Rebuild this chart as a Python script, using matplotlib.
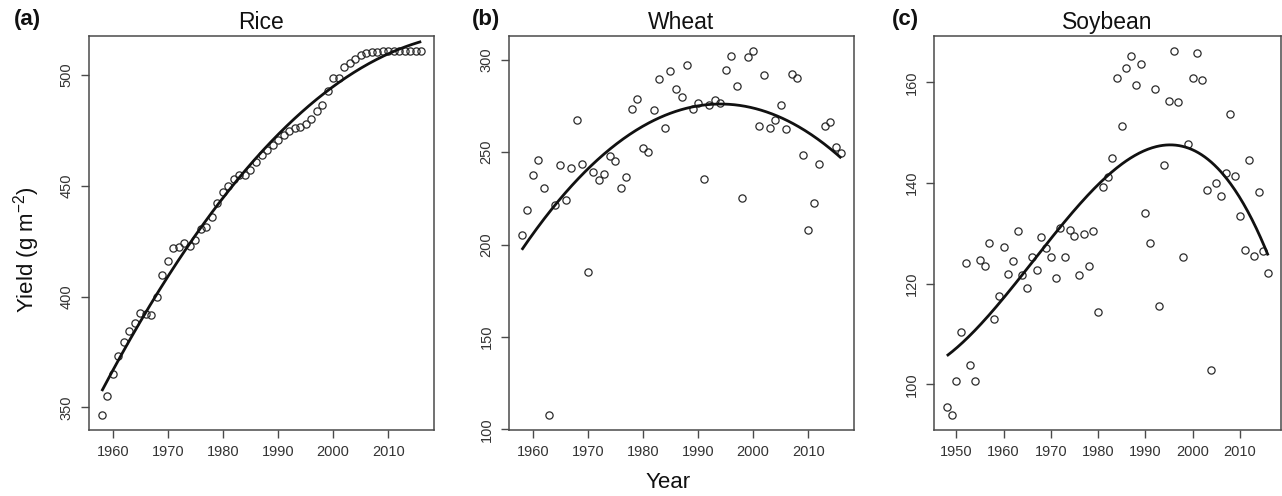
import numpy as np
import matplotlib
matplotlib.use("Agg")
import matplotlib.pyplot as plt

plt.rcParams['font.family'] = ['Liberation Sans', 'DejaVu Sans']
plt.rcParams['mathtext.fontset'] = 'custom'
plt.rcParams['mathtext.rm'] = 'Liberation Sans'
plt.rcParams['mathtext.it'] = 'Liberation Sans:italic'

# ---------------- data ----------------
rice_years = list(range(1958, 2017))
rice_yield = [346.4, 355.0, 365.3, 373.1, 379.3, 384.6, 387.9, 392.6, 392.0, 391.7,
              399.6, 409.7, 415.9, 421.8, 422.5, 424.3, 422.7, 425.7, 430.6, 431.6,
              436.0, 442.3, 447.0, 450.0, 453.2, 454.7, 455.0, 457.3, 460.6, 463.8,
              466.1, 468.3, 470.6, 473.1, 474.9, 476.1, 476.7, 478.1, 480.0, 483.7,
              486.4, 492.7, 498.8, 498.8, 503.8, 505.6, 507.3, 508.8, 510.0, 510.2,
              510.5, 510.6, 510.6, 510.7, 510.8, 510.9, 511.0, 511.0, 511.0]

wheat_years = list(range(1958, 2017))
wheat_yield = [205.2, 219.0, 237.6, 246.0, 230.5, 107.6, 221.6, 243.0, 224.4, 241.3,
               267.3, 243.8, 185.3, 239.1, 234.8, 238.0, 247.8, 245.1, 230.9, 236.8,
               273.3, 279.0, 252.5, 250.0, 272.6, 289.5, 262.9, 293.9, 284.3, 279.9,
               297.3, 273.4, 276.6, 235.3, 275.4, 278.1, 276.6, 294.5, 301.9, 285.8,
               225.0, 301.3, 305.0, 264.1, 292.0, 263.2, 267.7, 275.5, 262.5, 292.6,
               290.1, 248.4, 207.8, 222.8, 243.6, 264.1, 266.3, 253.1, 249.5]

soy_years = list(range(1948, 2017))
soy_yield = [95.4, 93.8, 100.6, 110.3, 124.0, 103.8, 100.7, 124.7, 123.4, 128.1,
             112.9, 117.6, 127.3, 121.9, 124.4, 130.5, 121.7, 119.2, 125.3, 122.7,
             129.2, 127.0, 125.3, 121.1, 131.0, 125.3, 130.7, 129.4, 121.7, 129.8,
             123.5, 130.4, 114.4, 139.1, 141.1, 145.0, 160.8, 151.3, 162.8, 165.3,
             159.5, 163.6, 134.0, 128.0, 158.7, 115.6, 143.6, 156.3, 166.3, 156.0,
             125.3, 147.8, 160.8, 165.9, 160.5, 138.6, 102.9, 140.0, 137.4, 141.9,
             153.7, 141.3, 133.4, 126.7, 144.5, 125.5, 138.2, 126.4, 122.1]

titles = ["Rice", "Wheat", "Soybean"]
letters = ["(a)", "(b)", "(c)"]
fit_degree = [2, 2, 3]
x_ticks = [list(range(1960, 2011, 10)), list(range(1960, 2011, 10)), list(range(1950, 2011, 10))]
y_ticks = [[350, 400, 450, 500], [100, 150, 200, 250, 300], [100, 120, 140, 160]]

series = [(rice_years, rice_yield), (wheat_years, wheat_yield), (soy_years, soy_yield)]

# ---------------- layout ----------------
W, H = 1282, 496
fig = plt.figure(figsize=(W / 100, H / 100), dpi=100)
lefts = [89, 509, 934]
rights = [434, 854, 1281]
top_px, bot_px = 36, 430
letter_x = [27, 486, 905]

spine_col = "#4a4a4a"
text_col = "#333333"

for i, (xs, ys) in enumerate(series):
    l, r = lefts[i], rights[i]
    ax = fig.add_axes([l / W, 1 - bot_px / H, (r - l) / W, (bot_px - top_px) / H])
    xs = np.array(xs, dtype=float)
    ys = np.array(ys, dtype=float)
    ax.plot(xs, ys, linestyle='none', marker='o', markersize=5.2,
            markerfacecolor='none', markeredgecolor='#2b2b2b', markeredgewidth=0.9)
    coef = np.polyfit(xs, ys, fit_degree[i])
    xx = np.linspace(xs.min(), xs.max(), 300)
    ax.plot(xx, np.polyval(coef, xx), color='#111111', lw=2.0, solid_capstyle='butt')
    xr = xs.max() - xs.min()
    yr = ys.max() - ys.min()
    ax.set_xlim(xs.min() - 0.04 * xr, xs.max() + 0.04 * xr)
    ax.set_ylim(ys.min() - 0.04 * yr, ys.max() + 0.04 * yr)
    ax.set_xticks(x_ticks[i])
    ax.set_yticks(y_ticks[i])
    ax.set_yticklabels([str(v) for v in y_ticks[i]], rotation=90, va='center')
    ax.tick_params(direction='out', length=6, width=1.0, color=spine_col,
                   labelsize=10.5, labelcolor=text_col, pad=5)
    for s in ax.spines.values():
        s.set_color(spine_col)
        s.set_linewidth(1.1)
    ax.set_title(titles[i], fontsize=16.5, color='#111111', pad=5)
    fig.text(letter_x[i] / W, 1 - 20 / H, letters[i], fontsize=16, fontweight='bold',
             ha='center', va='center', color='#111111')

fig.text(668 / W, 1 - 483 / H, "Year", fontsize=16, ha='center', va='center', color='#111111')
fig.text(27 / W, 1 - 250 / H, "Yield (g m$^{-2}$)", fontsize=16, rotation=90,
         ha='center', va='center', color='#111111')

fig.savefig("out.png", dpi=100)
